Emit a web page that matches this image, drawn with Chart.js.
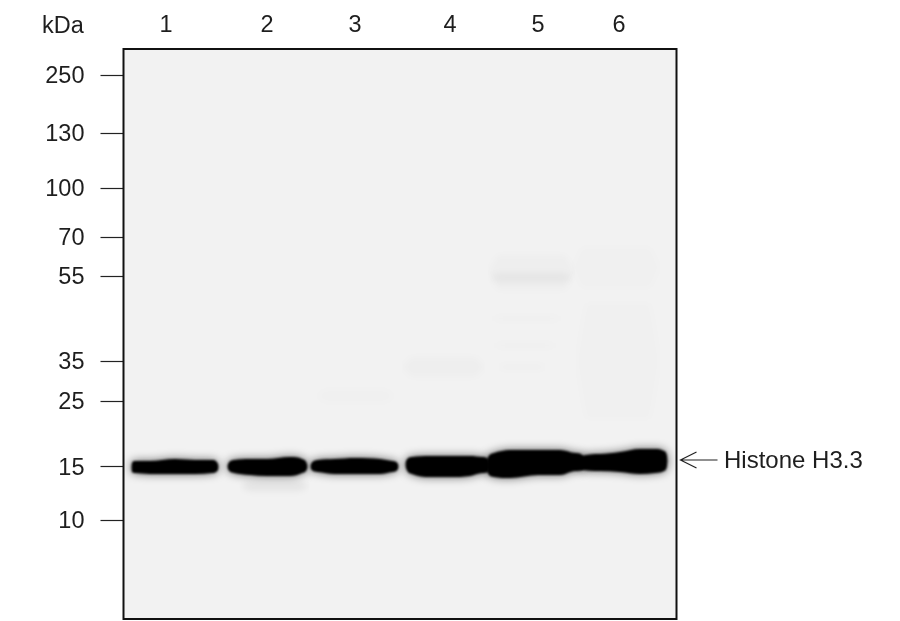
<!DOCTYPE html>
<html>
<head>
<meta charset="utf-8">
<style>html,body{margin:0;padding:0;background:#fff}canvas{display:block}</style>
<script src="https://cdn.jsdelivr.net/npm/chart.js@4/dist/chart.umd.js"></script>
</head>
<body>
<canvas id="blot" width="900" height="621"></canvas>
<script>
// lanes and ladder
const laneNames = ["1","2","3","4","5","6"];
const laneCenters = [42.5,143.5,231.5,326.5,414.5,495.5];
const markerKda = [250,130,100,70,55,35,25,15,10];
const markerMigration = [26,84,139,188,227,312,352,418,471];

// main band outlines per lane: gel position, upper edge, lower edge (migration)
const bandX = [
  [8.5,11.5,26.5,51.5,71.5,88.5,94.5],
  [104.5,110.5,126.5,143.5,166.5,178.5,183.5],
  [187.5,194.5,211.5,231.5,256.5,268.5,274.5],
  [282.5,288.5,306.5,326.5,346.5,358.5,365.5],
  [363.5,370.5,386.5,414.5,436.5,451.5,460.5],
  [456.5,476.5,496.5,516.5,531.5,540.5,543.5]
];
const bandTop = [
  [414,412,412,410,411,411,415],
  [415,411,410,410,408,410,415],
  [415,411,410,409,410,412,415],
  [412,408,407,407,407,408,411],
  [411,404,401,401,401,404,408],
  [408,405,403,400,400,402,407]
];
const bandBottom = [
  [423,424,425,425,425,424,421],
  [420,424,426,427,427,424,420],
  [420,423,425,425,425,423,420],
  [419,425,428,428,427,424,422],
  [422,428,429,426,426,422,420],
  [420,422,423,425,424,422,417]
];

// faint background smears: x from, x to, upper, lower, darkness
const smearFrom = [376,378,378,380,384,460,464,290,204,128];
const smearTo = [440,438,428,423,413,525,525,350,260,174];
const smearTop = [206,224,268,295,316,198,254,308,340,432];
const smearBottom = [241,233,271,298,320,239,370,328,354,442];
const smearDark = [.014,.035,.018,.018,.02,.009,.007,.016,.008,.055];

const labelColor = "#1e1e1e";
const font = {family:"'Liberation Sans', Arial, sans-serif", size:23.5};

// closes the outline at both tips, the extra tail keeps the blur from being cut
function edge(xs,ys,tips){
  const n = xs.length-1;
  const pts = xs.map((x,i)=>({x,y:ys[i]}));
  return [{x:xs[0]-16,y:tips[0]},{x:xs[0]-.5,y:tips[0]}].concat(pts,[{x:xs[n]+.5,y:tips[1]},{x:xs[n]+16,y:tips[1]}]);
}
function layer(top,bottom,color,blur){
  return [
    {data:top,fill:{target:"+1"},backgroundColor:color,blur,borderWidth:0,pointRadius:0,cubicInterpolationMode:"monotone"},
    {data:bottom,fill:false,blur,borderWidth:0,pointRadius:0,cubicInterpolationMode:"monotone"}
  ];
}

let datasets = [];
const bandTips = bandX.map((_,i)=>{
  const n = bandTop[i].length-1;
  return [(bandTop[i][0]+bandBottom[i][0])/2,(bandTop[i][n]+bandBottom[i][n])/2];
});
// sharp core first (drawn last), then halo
bandX.forEach((xs,i)=>{
  datasets.push(...layer(edge(xs,bandTop[i],bandTips[i]),edge(xs,bandBottom[i],bandTips[i]),"#000",1.1));
});
bandX.forEach((xs,i)=>{
  datasets.push(...layer(edge(xs,bandTop[i],bandTips[i]),edge(xs,bandBottom[i],bandTips[i]),"rgba(0,0,0,.6)",5));
});
smearFrom.forEach((x0,i)=>{
  const x1 = smearTo[i], mid = (smearTop[i]+smearBottom[i])/2;
  const top = [{x:x0-12,y:mid},{x:x0,y:smearTop[i]},{x:x1,y:smearTop[i]},{x:x1+12,y:mid}];
  const bot = [{x:x0-12,y:mid},{x:x0,y:smearBottom[i]},{x:x1,y:smearBottom[i]},{x:x1+12,y:mid}];
  datasets.push(...layer(top,bot,`rgba(0,0,0,${smearDark[i]})`,3));
});

// filter has to be set before the filler runs, so each dataset primes the next one drawn
const blurPlugin = {
  id:"blur",
  beforeDatasetsDraw(c){
    const d = c.data.datasets;
    c.ctx.filter = `blur(${d[d.length-1].blur}px)`;
  },
  afterDatasetDraw(c,args){
    const next = c.data.datasets[args.index-1];
    c.ctx.filter = next ? `blur(${next.blur}px)` : "none";
  },
  afterDatasetsDraw(c){ c.ctx.filter = "none"; }
};

const gelPlugin = {
  id:"gel",
  beforeDatasetsDraw(c){
    const {left,top,width,height} = c.chartArea, ctx = c.ctx;
    ctx.save();
    ctx.fillStyle = "#f2f2f2";
    ctx.fillRect(left,top,width,height);
    ctx.restore();
  },
  afterDraw(c){
    const {left,top,width,height,right} = c.chartArea, ctx = c.ctx;
    ctx.save();
    ctx.strokeStyle = "#111"; ctx.lineWidth = 2;
    ctx.strokeRect(left,top,width,height);

    ctx.fillStyle = labelColor;
    ctx.font = `${font.size}px ${font.family}`;
    ctx.textBaseline = "middle";
    ctx.textAlign = "center";
    ctx.fillText("kDa",63,27);

    // arrow to the band
    const y = c.scales.y.getPixelForValue(411);
    ctx.strokeStyle = "#222"; ctx.lineWidth = 1.2;
    ctx.beginPath();
    ctx.moveTo(right+41,y); ctx.lineTo(right+4,y);
    ctx.moveTo(right+20,y-8); ctx.lineTo(right+4,y); ctx.lineTo(right+20,y+8);
    ctx.stroke();
    ctx.textAlign = "left";
    ctx.font = `24px ${font.family}`;
    ctx.fillText("Histone H3.3",right+47.5,y+1);
    ctx.restore();
  }
};

new Chart(document.getElementById("blot"),{
  type:"line",
  data:{datasets},
  plugins:[gelPlugin,blurPlugin],
  options:{
    responsive:false,animation:false,
    layout:{padding:{left:0,top:0,right:223.5,bottom:2}},
    plugins:{legend:{display:false},tooltip:{enabled:false},title:{display:false}},
    scales:{
      x:{
        type:"linear",position:"top",min:0,max:553,
        grid:{display:false,drawTicks:false},border:{display:false},
        afterBuildTicks(s){ s.ticks = laneCenters.map(value=>({value})); },
        afterFit(s){ s.height = 49; s.paddingLeft = 0; s.paddingRight = 0; },
        ticks:{autoSkip:false,maxRotation:0,padding:9,color:labelColor,font,
          callback:(v,i)=>laneNames[i]}
      },
      y:{
        type:"linear",reverse:true,min:0,max:570,
        grid:{drawOnChartArea:false,drawTicks:true,tickLength:23,tickColor:"#222",tickWidth:1.2},
        border:{display:false},
        afterBuildTicks(s){ s.ticks = markerMigration.map(value=>({value})); },
        afterFit(s){ s.width = 123.5; s.paddingTop = 0; s.paddingBottom = 0; },
        ticks:{autoSkip:false,padding:16,labelOffset:2,color:labelColor,font,
          callback:(v,i)=>String(markerKda[i])}
      }
    }
  }
});
</script>
</body>
</html>
